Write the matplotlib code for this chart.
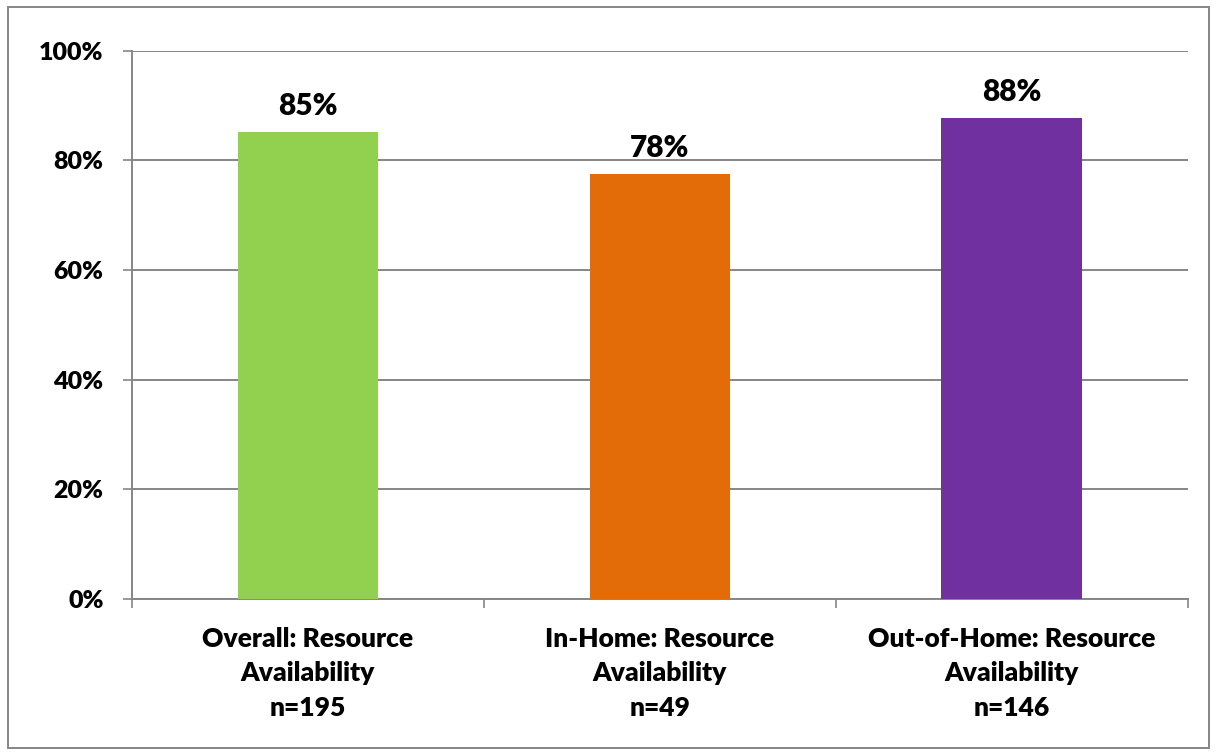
import matplotlib.pyplot as plt
from matplotlib.patches import Rectangle

categories = ["Overall: Resource\nAvailability\nn=195",
              "In-Home: Resource\nAvailability\nn=49",
              "Out-of-Home: Resource\nAvailability\nn=146"]
values = [85.2, 77.5, 87.7]
colors = ["#92D050", "#E36C09", "#7030A0"]
yticks = [0, 20, 40, 60, 80, 100]

plt.rcParams['font.family'] = ['Lato', 'DejaVu Sans']
plt.rcParams['font.weight'] = 'heavy'

grey = "#868686"
fig = plt.figure(figsize=(12.17, 7.55), dpi=100)
ax = fig.add_axes([0.1085, 0.2066, 0.8675, 0.7264])

x = list(range(len(categories)))
bars = ax.bar(x, values, width=0.4, color=colors, zorder=3)

for bar, v in zip(bars, values):
    ax.text(bar.get_x() + bar.get_width() / 2, v + 2.2, f"{round(v)}%",
            ha='center', va='bottom', fontsize=21.5, fontweight='heavy')

ax.set_xlim(-0.5, 2.5)
ax.set_ylim(0, 100)
ax.set_yticks(yticks)
ax.set_yticklabels([f"{t}%" for t in yticks])
ax.yaxis.grid(True, color=grey, linewidth=1.4, zorder=0)

ax.set_xticks(x)
ax.set_xticklabels(categories, linespacing=1.53, fontsize=19)
ax.set_xticks([-0.5, 0.5, 1.5, 2.5], minor=True)
ax.tick_params(axis='x', which='major', length=0, pad=20)
ax.tick_params(axis='x', which='minor', length=6.5, width=1.2, color=grey)
ax.tick_params(axis='y', length=6.5, width=1.2, color=grey, pad=14, labelsize=18)

for s in ['top', 'right']:
    ax.spines[s].set_visible(False)
for s in ['left', 'bottom']:
    ax.spines[s].set_color(grey)
    ax.spines[s].set_linewidth(1.4)

# outer frame around the whole chart
fig.patches.append(Rectangle((8 / 1217, 7 / 755), 1201 / 1217, 741 / 755,
                             transform=fig.transFigure, fill=False,
                             edgecolor=grey, linewidth=1.4))

fig.savefig("out.png", dpi=100)
